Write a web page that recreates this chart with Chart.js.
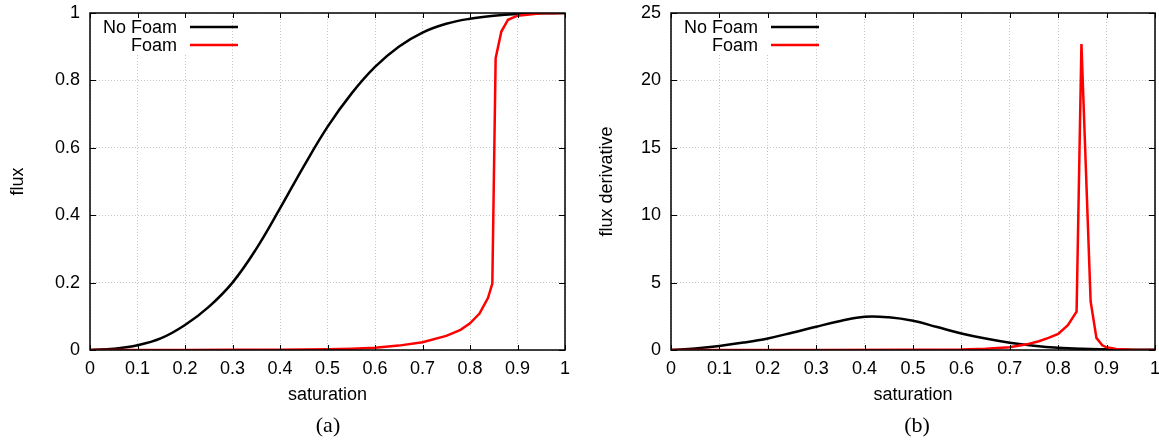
<!DOCTYPE html>
<html>
<head>
<meta charset="utf-8">
<script src="https://cdn.jsdelivr.net/npm/chart.js@4.4.0/dist/chart.umd.min.js"></script>
<style>
  html, body { margin: 0; padding: 0; background: #fff; }
  body { width: 1159px; height: 442px; position: relative; overflow: hidden; }
  canvas { position: absolute; top: 0; }
  #fluxChart { left: 0; }
  #derivChart { left: 580px; }
  .panel-label {
    position: absolute; top: 412px; line-height: 26px;
    font-family: "Liberation Serif", "Times New Roman", serif; font-size: 22px; color: #000;
    transform: translateX(-50%);
  }
</style>
</head>
<body>
<canvas id="fluxChart" width="580" height="442"></canvas>
<canvas id="derivChart" width="579" height="442"></canvas>
<div class="panel-label" style="left:328px">(a)</div>
<div class="panel-label" style="left:917px">(b)</div>

<script>
// --- data ---
const seriesNames = ['No Foam', 'Foam'];

const xTickLabels = ['0', '0.1', '0.2', '0.3', '0.4', '0.5', '0.6', '0.7', '0.8', '0.9', '1'];
const fluxTickLabels = ['0', '0.2', '0.4', '0.6', '0.8', '1'];
const derivTickLabels = ['0', '5', '10', '15', '20', '25'];

// (a) flux
const noFoamSat = [0, 0.05, 0.1, 0.15, 0.2, 0.25, 0.3, 0.35, 0.4, 0.45, 0.5, 0.55, 0.6, 0.65, 0.7, 0.75, 0.8, 0.85, 0.9, 0.95, 1];
const noFoamFlux = [0, 0.004, 0.014, 0.035, 0.074, 0.128, 0.2, 0.3, 0.42, 0.545, 0.662, 0.76, 0.84, 0.9, 0.942, 0.968, 0.983, 0.992, 0.997, 0.999, 1];

const foamSat = [0, 0.1, 0.2, 0.3, 0.4, 0.5, 0.55, 0.6, 0.65, 0.7, 0.75, 0.78, 0.8, 0.82, 0.838, 0.847, 0.854, 0.866, 0.88, 0.9, 0.95, 1];
const foamFlux = [0, 0, 0.0002, 0.0005, 0.001, 0.002, 0.004, 0.007, 0.013, 0.023, 0.042, 0.06, 0.079, 0.108, 0.155, 0.197, 0.866, 0.945, 0.98, 0.992, 0.999, 1];

// (b) flux derivative
const noFoamDeriv = [0, 0.12, 0.3, 0.55, 0.86, 1.28, 1.73, 2.15, 2.47, 2.43, 2.17, 1.7, 1.23, 0.85, 0.54, 0.32, 0.17, 0.09, 0.05, 0.02, 0.01];

const foamDerivSat = [0, 0.3, 0.5, 0.6, 0.65, 0.7, 0.735, 0.76, 0.78, 0.8, 0.82, 0.838, 0.848, 0.867, 0.879, 0.891, 0.9, 0.92, 0.95, 1];
const foamDeriv = [0, 0.005, 0.02, 0.04, 0.1, 0.2, 0.42, 0.65, 0.9, 1.2, 1.85, 2.85, 22.7, 3.6, 0.9, 0.35, 0.2, 0.08, 0.02, 0];

Chart.defaults.font.family = '"Liberation Sans", Arial, sans-serif';
Chart.defaults.font.size = 18;
Chart.defaults.color = '#000';

const toPoints = (xs, ys) => xs.map((x, i) => ({ x: x, y: ys[i] }));

// gnuplot style box: inward ticks on every side, frame and key in the top left
const gnuplotFrame = {
    id: 'gnuplotFrame',
    beforeDatasetsDraw(chart) {
        const { ctx, chartArea: a } = chart;
        ctx.save();
        ctx.fillStyle = '#fff';
        ctx.fillRect(a.left + 1, a.top + 1, 138, 41); // opaque key
        ctx.restore();
    },
    afterDraw(chart) {
        const { ctx, chartArea: a, scales } = chart;
        const seg = (x1, y1, x2, y2) => { ctx.beginPath(); ctx.moveTo(x1, y1); ctx.lineTo(x2, y2); ctx.stroke(); };
        ctx.save();
        ctx.strokeStyle = '#000';
        ctx.lineWidth = 1;
        scales.x.ticks.forEach(t => {
            const px = Math.round(scales.x.getPixelForValue(t.value)) + 0.5;
            seg(px, a.bottom, px, a.bottom - 5);
            seg(px, a.top, px, a.top + 5);
        });
        scales.y.ticks.forEach(t => {
            const py = Math.round(scales.y.getPixelForValue(t.value)) + 0.5;
            seg(a.left, py, a.left + 6, py);
            seg(a.right, py, a.right - 6, py);
        });
        ctx.lineWidth = 1.5;
        ctx.strokeRect(a.left, a.top, a.right - a.left, a.bottom - a.top);

        // key
        ctx.font = '18px "Liberation Sans", Arial, sans-serif';
        ctx.textAlign = 'right';
        ctx.textBaseline = 'middle';
        chart.data.datasets.forEach((ds, i) => {
            const y = a.top + 14 + i * 18;
            ctx.fillStyle = '#000';
            ctx.fillText(ds.label, a.left + 87, y + 1);
            ctx.strokeStyle = ds.borderColor;
            ctx.lineWidth = 2.5;
            seg(a.left + 100, y, a.left + 148, y);
        });
        ctx.restore();
    }
};

function makeChart(canvasId, data1, data2, yMax, yStep, yLabels, yTitle, opts) {
    const ctx = document.getElementById(canvasId).getContext('2d');
    return new Chart(ctx, {
        type: 'line',
        data: {
            datasets: [{
                label: seriesNames[0],
                data: data1,
                borderColor: '#000000',
                borderWidth: 2.5,
                pointRadius: 0,
                tension: 0.4,
                order: 1
            }, {
                label: seriesNames[1],
                data: data2,
                borderColor: '#ff0000',
                borderWidth: 2.5,
                pointRadius: 0,
                tension: 0,
                order: 0
            }]
        },
        options: {
            responsive: false,
            animation: false,
            layout: { padding: { top: 13, right: opts.padRight, left: 0, bottom: 0 } },
            scales: {
                x: {
                    type: 'linear',
                    min: 0,
                    max: 1,
                    afterFit: s => { s.height = 92; s.paddingLeft = 0; s.paddingRight = 0; },
                    ticks: {
                        stepSize: 0.1,
                        autoSkip: false,
                        maxRotation: 0,
                        padding: 8,
                        callback: (v, i) => xTickLabels[i]
                    },
                    grid: { color: '#c4c4c4', drawTicks: false },
                    border: { display: false, dash: [1, 2] },
                    title: { display: true, text: 'saturation', padding: { top: 0, bottom: 36 } }
                },
                y: {
                    min: 0,
                    max: yMax,
                    afterFit: s => { s.width = opts.yWidth; s.paddingTop = 0; s.paddingBottom = 0; },
                    ticks: {
                        stepSize: yStep,
                        autoSkip: false,
                        padding: 10,
                        callback: (v, i) => yLabels[i]
                    },
                    grid: { color: '#c4c4c4', drawTicks: false },
                    border: { display: false, dash: [1, 2] },
                    title: { display: true, text: yTitle, padding: { top: opts.titlePad, bottom: 0 } }
                }
            },
            plugins: {
                legend: { display: false },
                tooltip: { enabled: false }
            }
        },
        plugins: [gnuplotFrame]
    });
}

makeChart('fluxChart',
    toPoints(noFoamSat, noFoamFlux), toPoints(foamSat, foamFlux),
    1, 0.2, fluxTickLabels, 'flux',
    { padRight: 15, yWidth: 90, titlePad: 7 });

makeChart('derivChart',
    toPoints(noFoamSat, noFoamDeriv), toPoints(foamDerivSat, foamDeriv),
    25, 5, derivTickLabels, 'flux derivative',
    { padRight: 4, yWidth: 91, titlePad: 16 });
</script>
</body>
</html>
